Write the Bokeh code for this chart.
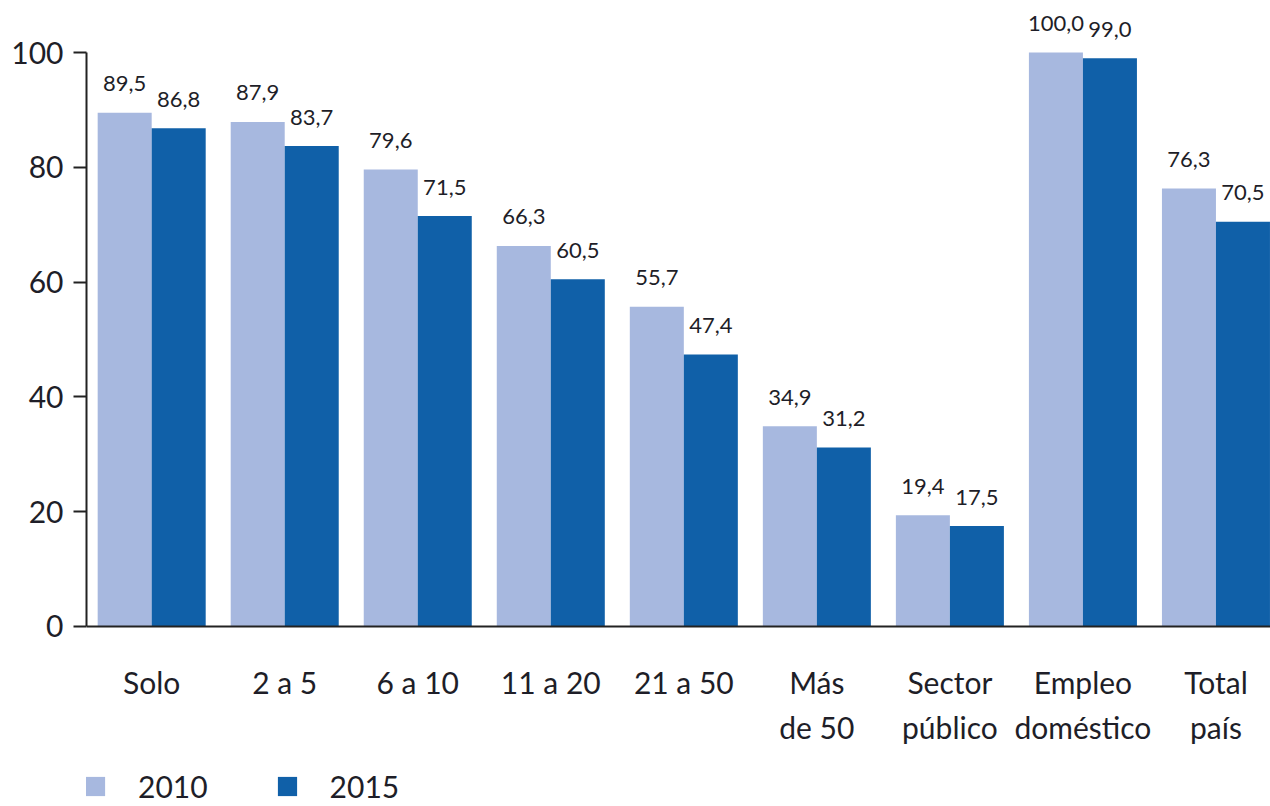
import numpy as np
from bokeh.plotting import figure
from bokeh.models import ColumnDataSource, Range1d, FixedTicker, Legend, LegendItem, Span
from bokeh.transform import dodge
from bokeh.core.properties import value
from bokeh.embed import file_html
from bokeh.resources import INLINE

categories = ["Solo", "2 a 5", "6 a 10", "11 a 20", "21 a 50", "Más\nde 50",
              "Sector\npúblico", "Empleo\ndoméstico", "Total\npaís"]
v2010 = [89.5, 87.9, 79.6, 66.3, 55.7, 34.9, 19.4, 100.0, 76.3]
v2015 = [86.8, 83.7, 71.5, 60.5, 47.4, 31.2, 17.5, 99.0, 70.5]
series_names = ["2010", "2015"]
y_ticks = [0, 20, 40, 60, 80, 100]

C2010 = "#a7b8df"
C2015 = "#1060a8"
FONT = "Lato"
TXT = "#1e1e28"

def fmt(v):
    return f"{v:.1f}".replace(".", ",")

idx = list(range(len(categories)))
src = ColumnDataSource(dict(
    x=idx, cat=categories, v2010=v2010, v2015=v2015,
    t2010=[fmt(v) for v in v2010], t2015=[fmt(v) for v in v2015],
))

p = figure(width=1270, height=806, output_backend="svg", toolbar_location=None,
           x_range=Range1d(-0.49, 8.41), y_range=Range1d(-31.36, 109.06),
           x_axis_location=None,
           min_border_left=86, min_border_right=0, min_border_top=0, min_border_bottom=0)
p.outline_line_color = None
p.xgrid.grid_line_color = None
p.ygrid.grid_line_color = None

bw = 0.406
off = 0.203
r1 = p.vbar(x=dodge("x", -off, range=p.x_range), top="v2010", width=bw, source=src,
            fill_color=C2010, line_color=None)
r2 = p.vbar(x=dodge("x", off, range=p.x_range), top="v2015", width=bw, source=src,
            fill_color=C2015, line_color=None)

p.text(x=dodge("x", -off, range=p.x_range), y="v2010", text="t2010", source=src,
       text_align="center", text_baseline="middle", y_offset=-29,
       text_font=value(FONT), text_font_size="22px", text_color=TXT)
p.text(x=dodge("x", off, range=p.x_range), y="v2015", text="t2015", source=src,
       text_align="center", text_baseline="middle", y_offset=-29,
       text_font=value(FONT), text_font_size="22px", text_color=TXT)

# category labels under the baseline
p.text(x="x", y=0, text="cat", source=src, text_align="center", text_baseline="top",
       y_offset=38, text_font=value(FONT), text_font_size="30px", text_color=TXT,
       text_line_height=1.25)

# x axis line
p.add_layout(Span(location=0, dimension="width", line_color="#222222", line_width=2))

# y axis
ya = p.yaxis[0]
ya.ticker = FixedTicker(ticks=y_ticks)
ya.bounds = (0, 100)
ya.axis_line_width = 2
ya.axis_line_color = "#222222"
ya.major_tick_line_width = 2
ya.major_tick_line_color = "#222222"
ya.major_tick_in = 0
ya.major_tick_out = 13
ya.minor_tick_line_color = None
ya.major_label_standoff = 10
ya.major_label_text_font = FONT
ya.major_label_text_font_size = "30px"
ya.major_label_text_color = TXT

legend = Legend(items=[LegendItem(label=series_names[0], renderers=[r1]),
                       LegendItem(label=series_names[1], renderers=[r2])],
                orientation="horizontal", location=(-3, 2),
                glyph_width=24, glyph_height=24, label_standoff=31, spacing=67,
                padding=0, margin=0, border_line_color=None, background_fill_alpha=0,
                label_text_font=FONT, label_text_font_size="30px", label_text_color=TXT)
p.add_layout(legend, "center")

open("out.html", "w").write(file_html(p, INLINE))
